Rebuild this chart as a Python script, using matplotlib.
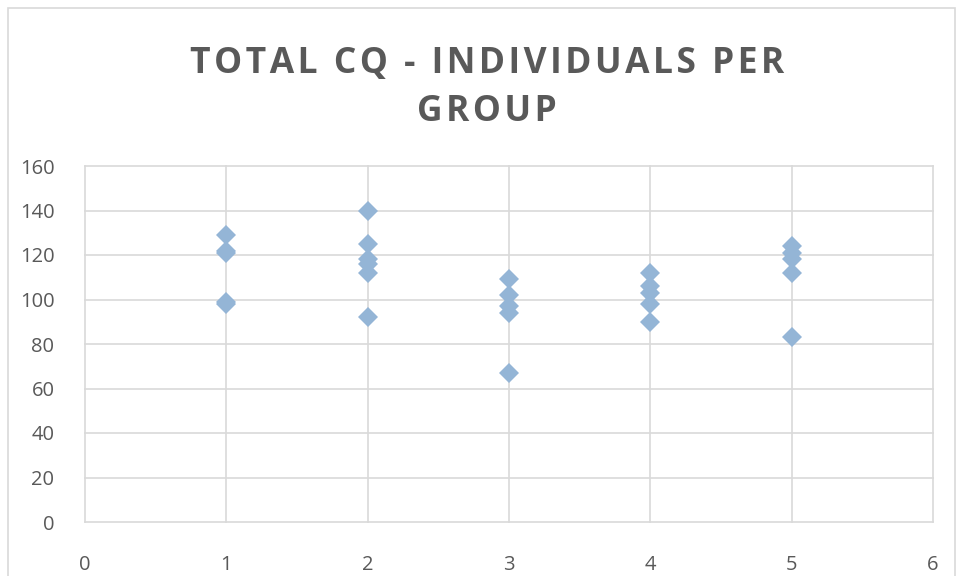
import matplotlib.pyplot as plt
from matplotlib.patches import Rectangle

# values
group_1 = [129, 122, 121, 99, 98]
group_2 = [140, 125, 118, 116, 112, 92]
group_3 = [109, 102, 97, 94, 67]
group_4 = [112, 106, 103, 98, 90]
group_5 = [124, 121, 118, 112, 83]
groups = [group_1, group_2, group_3, group_4, group_5]
x_ticks = [0, 1, 2, 3, 4, 5, 6]
y_ticks = [0, 20, 40, 60, 80, 100, 120, 140, 160]
title_lines = ["TOTAL CQ - INDIVIDUALS PER", "GROUP"]

GRID = "#d9d9d9"
TXT = "#595959"
W, H = 957, 576

fig = plt.figure(figsize=(W / 100, H / 100), dpi=100)
ax = fig.add_axes([85 / W, (H - 522) / H, (933 - 85) / W, (522 - 166) / H])

for g, vals in enumerate(groups, start=1):
    ax.plot([g] * len(vals), vals, linestyle="none", marker="D", markersize=10.5,
            color="#94b5d6", markeredgewidth=0, zorder=3)

ax.set_xlim(0, 6)
ax.set_ylim(0, 160)
ax.set_xticks(x_ticks)
ax.set_yticks(y_ticks)
ax.grid(True, color=GRID, linewidth=1.2)
ax.set_axisbelow(True)
for s in ax.spines.values():
    s.set_visible(False)
for gl in ax.get_xgridlines() + ax.get_ygridlines():
    gl.set_clip_on(False)
ax.tick_params(length=0, labelsize=14.5, labelcolor=TXT, pad=0)
ax.tick_params(axis="y", pad=22)
ax.tick_params(axis="x", pad=24)
for lab in ax.get_xticklabels() + ax.get_yticklabels():
    lab.set_fontfamily("Open Sans")

# letter-spaced title (hair space between characters)
spaced = "\n".join("\u200a".join(line) for line in title_lines)
fig.text(487 / W, 1 - 88 / H, spaced, ha="center", va="center", fontsize=25.5,
         fontweight="bold", color=TXT, family=["Open Sans", "DejaVu Sans"],
         linespacing=1.45)

fig.patches.append(Rectangle((8 / W, -0.05), (955 - 8) / W, 1.05 - 8 / H,
                             transform=fig.transFigure, fill=False,
                             edgecolor=GRID, linewidth=1.2))

fig.savefig("out.png", dpi=100)
